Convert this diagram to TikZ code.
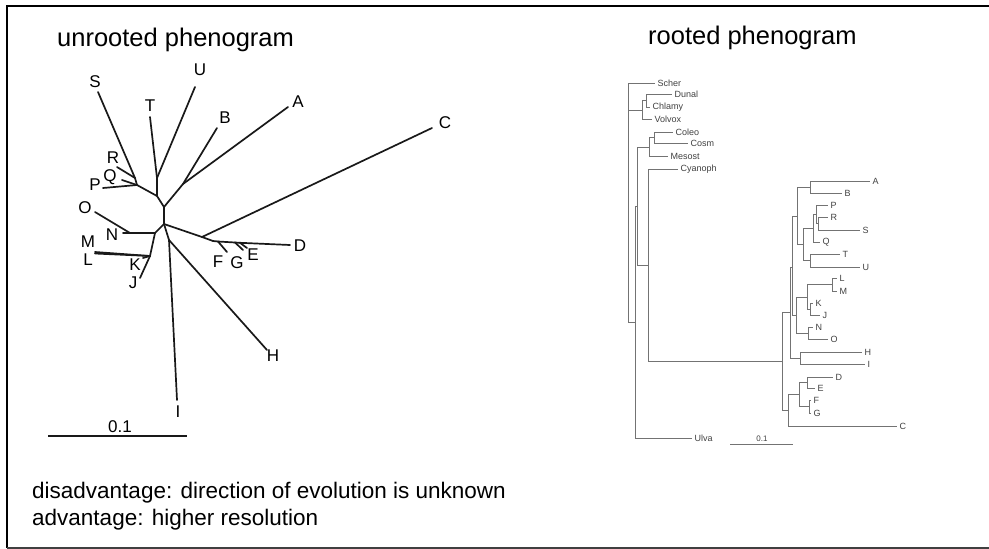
\documentclass[tikz,border=0pt]{standalone}
\usepackage{fontspec}
\setmainfont{Liberation Sans}
\begin{document}
\begin{tikzpicture}[x=1pt, y=-1pt,
	ubranch/.style={line width=1.7pt, line cap=round, black!90},
	ulab/.style={font=\fontsize{17}{17}\selectfont, inner sep=0pt},
	rbranch/.style={line width=0.8pt, black!55},
	rlab/.style={font=\fontsize{9}{9}\selectfont, text=black!75, inner sep=0pt, anchor=west, xshift=2.5pt},
	title/.style={font=\fontsize{25.5}{25.5}\selectfont, anchor=base west, inner sep=0pt},
	note/.style={font=\fontsize{22.5}{22.5}\selectfont, anchor=base west, inner sep=0pt}]

	\useasboundingbox (0,0) rectangle (989,549);

	% frame
	\draw[line width=2.2pt] (989,6) -- (7,6) -- (7,548);
	\draw[line width=1.6pt, black!75] (7,548) -- (989,548);

	% titles
	\node[title] (utitle) at (57,46) {unrooted phenogram};
	\node[title] (rtitle) at (648,44) {rooted phenogram};

	% unrooted phenogram: tips, labels, inner nodes
	\foreach \n/\x/\y in {S/98/92, U/195/87, T/150/117, B/217/128, A/288/107, C/432/128,
		R/117/167, Q/122/180, P/103/188, O/95/212, N/123/233, M/95/252, L/95/253.5,
		K/143/258, J/140/278, F/227/252, G/243/250, E/247/248, D/290/245, H/267/350, I/177/400}
		\coordinate (u\n) at (\x,\y);
	\foreach \n/\x/\y in {S/95/82, U/200/70, T/150/106, B/225/118, A/298/102, C/445/123,
		R/113/158, Q/110/177, P/95/185, O/85/208, N/112/235, M/88/241.5, L/88/259.5,
		K/135/265, J/133/283, F/218/262, G/237/263, E/253/255, D/300/246, H/273/356, I/178/412}
		\node[ulab] (ul\n) at (\x,\y) {\n};
	\foreach \n/\x/\y in {sr/135/178, pq/137/185, tu/157/178, n2/157/196, ab/183/184,
		n3/164/207, n4/164/224, no/130/233, nj/155/233, jm/150/256, n5/202/237,
		n6/213/241, fj/218/241.5, gj/235/242.5, ej/240/242.8, n7/169/240}
		\coordinate (u\n) at (\x,\y);

	\foreach \a/\b in {S/sr, R/sr, sr/pq, Q/pq, P/pq, pq/n2, T/tu, U/tu, tu/n2, n2/n3,
		A/ab, B/ab, ab/n3, n3/n4, O/no, N/no, no/nj, M/jm, L/jm, K/jm, J/jm, jm/nj, nj/n4,
		n4/n5, C/n5, n5/n6, n6/fj, fj/gj, gj/ej, ej/D, F/fj, G/gj, E/ej, n4/n7, H/n7, I/n7}
		\draw[ubranch] (u\a) -- (u\b);

	% scale bar
	\coordinate (usb1) at (48,436);
	\coordinate (usb2) at (187,436);
	\draw[ubranch, line cap=butt] (usb1) -- (usb2);
	\node[ulab] (uscale) at (120,427) {0.1};

	% notes
	\node[note] (disadv) at (32,498) {disadvantage: direction of evolution is unknown};
	\node[note] (adv) at (32,525) {advantage: higher resolution};

	% rooted phenogram: leaf ends with labels
	\foreach \n/\x/\y in {Scher/655/83, Dunal/672/94, Chlamy/650/107, Volvox/652/119,
		Coleo/673/132, Cosm/688/143, Mesost/668/156, Cyanoph/678/169,
		A/870/181, B/842/193, P/828/205, R/828/217, S/860/230, Q/820/242,
		T/840/254, U/860/267, L/837/278, M/837/291, K/813/303, J/820/315,
		N/813/327, O/828/339, H/862/352, I/865/364, D/833/377, E/815/388,
		F/811/400, G/811/413, C/897/426, Ulva/692/438} {
		\coordinate (r\n) at (\x,\y);
		\node[rlab] (rl\n) at (r\n) {\n};
	}
	% inner nodes
	\foreach \n/\x/\y in {root/628/202, dc/646/100, dcv/642/110, cc/654/137.5, ccm/649/147,
		cy/648/265.5, ccy/637/206, ulv/635/322, crown/782/361.5, upper/790/312.5,
		g1/792/267, abpt/797/216, ab/810/187, pt/803/244, prsq/813/228, prs/816/214,
		rs/818/223.5, tu/810/260.5, jo/796/315, lmkj/807/297, lm/832/284.5, kj/810/309,
		no/808/333, hi/800/358, lower/788/410.5, defg/799/394.5, de/807/382.5, fg/809/406.5}
		\coordinate (r\n) at (\x,\y);

	\foreach \p/\c in {root/Scher, root/dcv, root/ulv, dcv/dc, dcv/Volvox, dc/Dunal, dc/Chlamy,
		ulv/ccy, ulv/Ulva, ccy/ccm, ccy/cy, ccm/cc, ccm/Mesost, cc/Coleo, cc/Cosm,
		cy/Cyanoph, cy/crown, crown/upper, crown/lower, upper/g1, upper/hi,
		g1/abpt, g1/jo, abpt/ab, abpt/pt, ab/A, ab/B, pt/prsq, pt/tu, prsq/prs, prsq/Q,
		prs/P, prs/rs, rs/R, rs/S, tu/T, tu/U, jo/lmkj, jo/no, lmkj/lm, lmkj/kj,
		lm/L, lm/M, kj/K, kj/J, no/N, no/O, hi/H, hi/I, lower/defg, lower/C,
		defg/de, defg/fg, de/D, de/E, fg/F, fg/G}
		\draw[rbranch] (r\p) |- (r\c);

	% scale bar
	\coordinate (rsb1) at (730,444);
	\coordinate (rsb2) at (793,444);
	\draw[rbranch] (rsb1) -- (rsb2);
	\node[font=\fontsize{8}{8}\selectfont, text=black!75, inner sep=0pt] (rscale) at (762,438.5) {0.1};

\end{tikzpicture}
\end{document}
